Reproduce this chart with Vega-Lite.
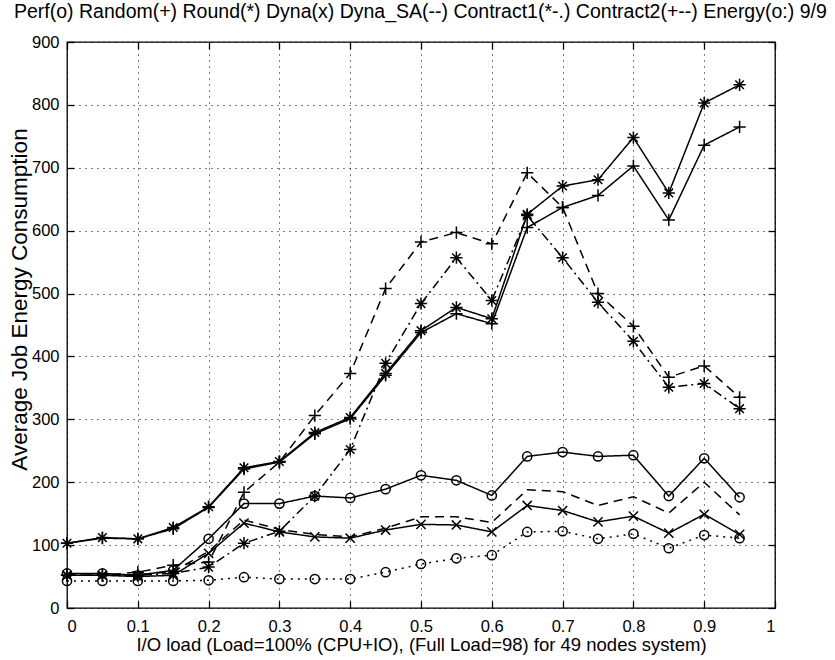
{
  "$schema": "https://vega.github.io/schema/vega-lite/v6.json",
  "autosize": {"type": "none"},
  "padding": {"left": 67, "top": 42, "right": 60, "bottom": 52},
  "width": 708,
  "height": 566,
  "background": "white",
  "config": {
    "font": "Liberation Sans",
    "view": {"stroke": "black", "strokeWidth": 1.3},
    "axis": {
      "domain": false,
      "labelColor": "black",
      "labelFont": "Liberation Sans",
      "labelFontSize": 16.5,
      "titleColor": "black",
      "titleFont": "Liberation Sans",
      "titleFontWeight": "normal",
      "tickColor": "black",
      "tickSize": -7,
      "tickWidth": 1.3,
      "gridColor": "black",
      "gridDash": [1, 5],
      "gridOpacity": 1,
      "gridWidth": 1
    }
  },
  "title": {
    "text": "Perf(o) Random(+) Round(*) Dyna(x) Dyna_SA(--) Contract1(*-.) Contract2(+--) Energy(o:) 9/9",
    "anchor": "start",
    "frame": "group",
    "dx": -53,
    "offset": 12,
    "font": "Liberation Sans",
    "fontSize": 19.5,
    "fontWeight": "normal",
    "color": "black"
  },
  "data": {
    "values": [
      {"series": "Perf", "load": 0, "energy": 55}, {"series": "Perf", "load": 0.05, "energy": 55}, {"series": "Perf", "load": 0.1, "energy": 52}, {"series": "Perf", "load": 0.15, "energy": 60}, {"series": "Perf", "load": 0.2, "energy": 110}, {"series": "Perf", "load": 0.25, "energy": 166}, {"series": "Perf", "load": 0.3, "energy": 166}, {"series": "Perf", "load": 0.35, "energy": 178}, {"series": "Perf", "load": 0.4, "energy": 175}, {"series": "Perf", "load": 0.45, "energy": 189}, {"series": "Perf", "load": 0.5, "energy": 211}, {"series": "Perf", "load": 0.55, "energy": 203}, {"series": "Perf", "load": 0.6, "energy": 179}, {"series": "Perf", "load": 0.65, "energy": 241}, {"series": "Perf", "load": 0.7, "energy": 248}, {"series": "Perf", "load": 0.75, "energy": 241}, {"series": "Perf", "load": 0.8, "energy": 243}, {"series": "Perf", "load": 0.85, "energy": 178}, {"series": "Perf", "load": 0.9, "energy": 238}, {"series": "Perf", "load": 0.95, "energy": 176},

      {"series": "Random", "load": 0, "energy": 103}, {"series": "Random", "load": 0.05, "energy": 111}, {"series": "Random", "load": 0.1, "energy": 110}, {"series": "Random", "load": 0.15, "energy": 126}, {"series": "Random", "load": 0.2, "energy": 160}, {"series": "Random", "load": 0.25, "energy": 221}, {"series": "Random", "load": 0.3, "energy": 232}, {"series": "Random", "load": 0.35, "energy": 277}, {"series": "Random", "load": 0.4, "energy": 301}, {"series": "Random", "load": 0.45, "energy": 370}, {"series": "Random", "load": 0.5, "energy": 438}, {"series": "Random", "load": 0.55, "energy": 468}, {"series": "Random", "load": 0.6, "energy": 452}, {"series": "Random", "load": 0.65, "energy": 605}, {"series": "Random", "load": 0.7, "energy": 637}, {"series": "Random", "load": 0.75, "energy": 656}, {"series": "Random", "load": 0.8, "energy": 703}, {"series": "Random", "load": 0.85, "energy": 617}, {"series": "Random", "load": 0.9, "energy": 736}, {"series": "Random", "load": 0.95, "energy": 765},

      {"series": "Round", "load": 0, "energy": 103}, {"series": "Round", "load": 0.05, "energy": 112}, {"series": "Round", "load": 0.1, "energy": 110}, {"series": "Round", "load": 0.15, "energy": 128}, {"series": "Round", "load": 0.2, "energy": 161}, {"series": "Round", "load": 0.25, "energy": 223}, {"series": "Round", "load": 0.3, "energy": 233}, {"series": "Round", "load": 0.35, "energy": 279}, {"series": "Round", "load": 0.4, "energy": 303}, {"series": "Round", "load": 0.45, "energy": 373}, {"series": "Round", "load": 0.5, "energy": 441}, {"series": "Round", "load": 0.55, "energy": 478}, {"series": "Round", "load": 0.6, "energy": 460}, {"series": "Round", "load": 0.65, "energy": 626}, {"series": "Round", "load": 0.7, "energy": 671}, {"series": "Round", "load": 0.75, "energy": 681}, {"series": "Round", "load": 0.8, "energy": 748}, {"series": "Round", "load": 0.85, "energy": 660}, {"series": "Round", "load": 0.9, "energy": 803}, {"series": "Round", "load": 0.95, "energy": 832},

      {"series": "Dyna", "load": 0, "energy": 52}, {"series": "Dyna", "load": 0.05, "energy": 52}, {"series": "Dyna", "load": 0.1, "energy": 50}, {"series": "Dyna", "load": 0.15, "energy": 52}, {"series": "Dyna", "load": 0.2, "energy": 87}, {"series": "Dyna", "load": 0.25, "energy": 135}, {"series": "Dyna", "load": 0.3, "energy": 121}, {"series": "Dyna", "load": 0.35, "energy": 113}, {"series": "Dyna", "load": 0.4, "energy": 111}, {"series": "Dyna", "load": 0.45, "energy": 124}, {"series": "Dyna", "load": 0.5, "energy": 133}, {"series": "Dyna", "load": 0.55, "energy": 132}, {"series": "Dyna", "load": 0.6, "energy": 121}, {"series": "Dyna", "load": 0.65, "energy": 163}, {"series": "Dyna", "load": 0.7, "energy": 155}, {"series": "Dyna", "load": 0.75, "energy": 137}, {"series": "Dyna", "load": 0.8, "energy": 146}, {"series": "Dyna", "load": 0.85, "energy": 119}, {"series": "Dyna", "load": 0.9, "energy": 149}, {"series": "Dyna", "load": 0.95, "energy": 117},

      {"series": "Dyna_SA", "load": 0, "energy": 52}, {"series": "Dyna_SA", "load": 0.05, "energy": 52}, {"series": "Dyna_SA", "load": 0.1, "energy": 53}, {"series": "Dyna_SA", "load": 0.15, "energy": 58}, {"series": "Dyna_SA", "load": 0.2, "energy": 90}, {"series": "Dyna_SA", "load": 0.25, "energy": 140}, {"series": "Dyna_SA", "load": 0.3, "energy": 125}, {"series": "Dyna_SA", "load": 0.35, "energy": 117}, {"series": "Dyna_SA", "load": 0.4, "energy": 113}, {"series": "Dyna_SA", "load": 0.45, "energy": 127}, {"series": "Dyna_SA", "load": 0.5, "energy": 145}, {"series": "Dyna_SA", "load": 0.55, "energy": 145}, {"series": "Dyna_SA", "load": 0.6, "energy": 136}, {"series": "Dyna_SA", "load": 0.65, "energy": 188}, {"series": "Dyna_SA", "load": 0.7, "energy": 185}, {"series": "Dyna_SA", "load": 0.75, "energy": 163}, {"series": "Dyna_SA", "load": 0.8, "energy": 177}, {"series": "Dyna_SA", "load": 0.85, "energy": 151}, {"series": "Dyna_SA", "load": 0.9, "energy": 200}, {"series": "Dyna_SA", "load": 0.95, "energy": 148},

      {"series": "Contract1", "load": 0, "energy": 52}, {"series": "Contract1", "load": 0.05, "energy": 52}, {"series": "Contract1", "load": 0.1, "energy": 52}, {"series": "Contract1", "load": 0.15, "energy": 55}, {"series": "Contract1", "load": 0.2, "energy": 65}, {"series": "Contract1", "load": 0.25, "energy": 103}, {"series": "Contract1", "load": 0.3, "energy": 122}, {"series": "Contract1", "load": 0.35, "energy": 178}, {"series": "Contract1", "load": 0.4, "energy": 252}, {"series": "Contract1", "load": 0.45, "energy": 389}, {"series": "Contract1", "load": 0.5, "energy": 484}, {"series": "Contract1", "load": 0.55, "energy": 557}, {"series": "Contract1", "load": 0.6, "energy": 489}, {"series": "Contract1", "load": 0.65, "energy": 624}, {"series": "Contract1", "load": 0.7, "energy": 557}, {"series": "Contract1", "load": 0.75, "energy": 486}, {"series": "Contract1", "load": 0.8, "energy": 424}, {"series": "Contract1", "load": 0.85, "energy": 351}, {"series": "Contract1", "load": 0.9, "energy": 357}, {"series": "Contract1", "load": 0.95, "energy": 317},

      {"series": "Contract2", "load": 0, "energy": 52}, {"series": "Contract2", "load": 0.05, "energy": 52}, {"series": "Contract2", "load": 0.1, "energy": 57}, {"series": "Contract2", "load": 0.15, "energy": 68}, {"series": "Contract2", "load": 0.2, "energy": 73}, {"series": "Contract2", "load": 0.25, "energy": 184}, {"series": "Contract2", "load": 0.3, "energy": 232}, {"series": "Contract2", "load": 0.35, "energy": 306}, {"series": "Contract2", "load": 0.4, "energy": 373}, {"series": "Contract2", "load": 0.45, "energy": 508}, {"series": "Contract2", "load": 0.5, "energy": 582}, {"series": "Contract2", "load": 0.55, "energy": 597}, {"series": "Contract2", "load": 0.6, "energy": 579}, {"series": "Contract2", "load": 0.65, "energy": 692}, {"series": "Contract2", "load": 0.7, "energy": 637}, {"series": "Contract2", "load": 0.75, "energy": 500}, {"series": "Contract2", "load": 0.8, "energy": 448}, {"series": "Contract2", "load": 0.85, "energy": 367}, {"series": "Contract2", "load": 0.9, "energy": 385}, {"series": "Contract2", "load": 0.95, "energy": 335},

      {"series": "Energy", "load": 0, "energy": 43}, {"series": "Energy", "load": 0.05, "energy": 43}, {"series": "Energy", "load": 0.1, "energy": 43}, {"series": "Energy", "load": 0.15, "energy": 43}, {"series": "Energy", "load": 0.2, "energy": 44}, {"series": "Energy", "load": 0.25, "energy": 49}, {"series": "Energy", "load": 0.3, "energy": 46}, {"series": "Energy", "load": 0.35, "energy": 46}, {"series": "Energy", "load": 0.4, "energy": 46}, {"series": "Energy", "load": 0.45, "energy": 57}, {"series": "Energy", "load": 0.5, "energy": 70}, {"series": "Energy", "load": 0.55, "energy": 79}, {"series": "Energy", "load": 0.6, "energy": 84}, {"series": "Energy", "load": 0.65, "energy": 121}, {"series": "Energy", "load": 0.7, "energy": 122}, {"series": "Energy", "load": 0.75, "energy": 110}, {"series": "Energy", "load": 0.8, "energy": 118}, {"series": "Energy", "load": 0.85, "energy": 95}, {"series": "Energy", "load": 0.9, "energy": 116}, {"series": "Energy", "load": 0.95, "energy": 111}
    ]
  },
  "layer": [
    {
      "mark": {"type": "line", "color": "black", "strokeWidth": 1.5, "clip": true},
      "encoding": {
        "x": {
          "field": "load", "type": "quantitative",
          "scale": {"domain": [0, 1], "nice": false, "zero": false},
          "axis": {
            "orient": "bottom",
            "values": [0, 0.1, 0.2, 0.3, 0.4, 0.5, 0.6, 0.7, 0.8, 0.9, 1],
            "format": "~g",
            "labelPadding": 17,
            "title": "I/O load (Load=100% (CPU+IO), (Full Load=98) for 49 nodes system)",
            "titleFontSize": 18.5,
            "titlePadding": 1,
            "grid": true
          }
        },
        "y": {
          "field": "energy", "type": "quantitative",
          "scale": {"domain": [0, 900], "nice": false},
          "axis": {
            "orient": "left",
            "values": [0, 100, 200, 300, 400, 500, 600, 700, 800, 900],
            "labelPadding": 15,
            "title": "Average Job Energy Consumption",
            "titleFontSize": 22.5,
            "titleX": -36,
            "titleY": 257,
            "grid": true
          }
        },
        "strokeDash": {
          "field": "series", "type": "nominal",
          "scale": {
            "domain": ["Perf", "Random", "Round", "Dyna", "Dyna_SA", "Contract1", "Contract2", "Energy"],
            "range": [[1, 0], [1, 0], [1, 0], [1, 0], [9, 6], [9, 4, 2, 4], [9, 6], [2, 5]]
          },
          "legend": null
        }
      }
    },
    {
      "transform": [{"filter": "datum.series != 'Dyna_SA'"}],
      "mark": {"type": "point", "filled": false, "color": "black", "strokeWidth": 1.5, "size": 150, "opacity": 1},
      "encoding": {
        "x": {
          "field": "load", "type": "quantitative",
          "axis": {
            "orient": "top",
            "values": [0, 0.1, 0.2, 0.3, 0.4, 0.5, 0.6, 0.7, 0.8, 0.9, 1],
            "labels": false,
            "title": null,
            "grid": false
          }
        },
        "y": {
          "field": "energy", "type": "quantitative",
          "axis": {
            "orient": "right",
            "values": [0, 100, 200, 300, 400, 500, 600, 700, 800, 900],
            "labels": false,
            "title": null,
            "grid": false
          }
        },
        "shape": {
          "field": "series", "type": "nominal",
          "scale": {
            "domain": ["Perf", "Random", "Round", "Dyna", "Contract1", "Contract2", "Energy"],
            "range": [
              "M-0.75,0A0.75,0.75 0 1,0 0.75,0A0.75,0.75 0 1,0 -0.75,0Z",
              "M-1,0L1,0M0,-1L0,1",
              "M-1,0L1,0M0,-1L0,1M-0.7,-0.7L0.7,0.7M-0.7,0.7L0.7,-0.7",
              "M-0.75,-0.75L0.75,0.75M-0.75,0.75L0.75,-0.75",
              "M-1,0L1,0M0,-1L0,1M-0.7,-0.7L0.7,0.7M-0.7,0.7L0.7,-0.7",
              "M-1,0L1,0M0,-1L0,1",
              "M-0.75,0A0.75,0.75 0 1,0 0.75,0A0.75,0.75 0 1,0 -0.75,0Z"
            ]
          },
          "legend": null
        }
      }
    }
  ],
  "resolve": {"axis": {"x": "independent", "y": "independent"}}
}
